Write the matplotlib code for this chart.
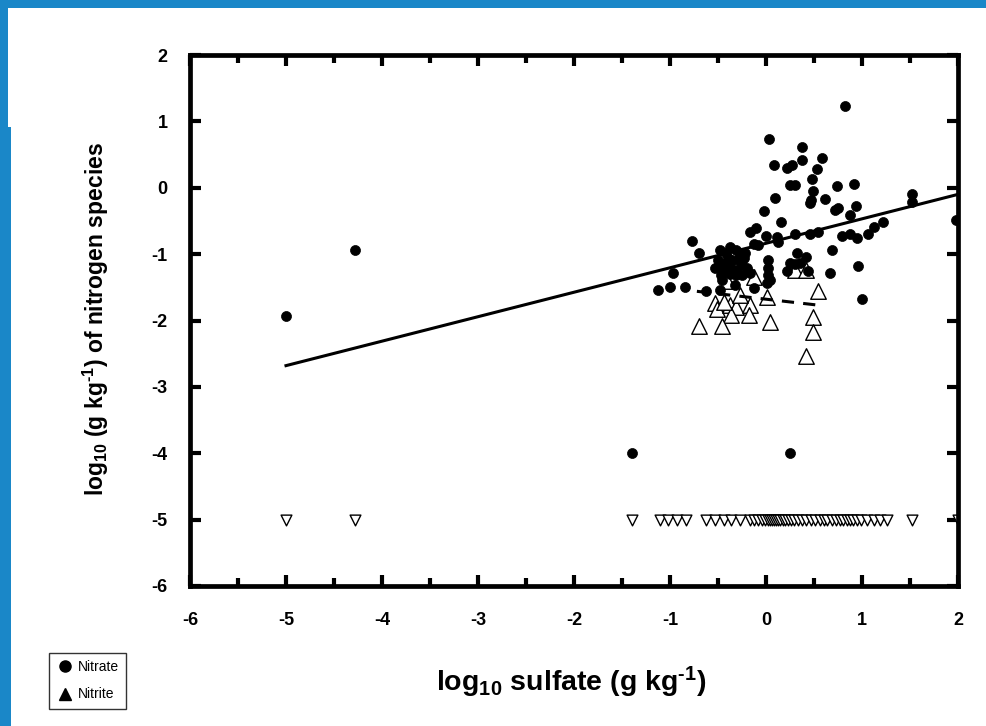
import matplotlib
matplotlib.use("Agg")
import matplotlib.pyplot as plt
from matplotlib.lines import Line2D
from matplotlib.patches import Rectangle
import numpy as np

plt.rcParams['font.family'] = ['Liberation Sans', 'DejaVu Sans']
plt.rcParams['axes.unicode_minus'] = False
plt.rcParams['mathtext.fontset'] = 'custom'
plt.rcParams['mathtext.rm'] = 'Liberation Sans:bold'
plt.rcParams['mathtext.it'] = 'Liberation Sans:bold'
plt.rcParams['mathtext.bf'] = 'Liberation Sans:bold'
plt.rcParams['mathtext.default'] = 'bf'

# ---- data ----
nitrate_x = [-5.0, -4.28, -1.40, 0.25, 0.82, 0.035, 0.37, 0.37, 0.58, 0.083, 0.22, 0.27,
             0.53, 0.48, 0.25, 0.30, 0.49, 0.74, 0.92, 0.09, 0.47, 0.46, 0.61, -0.02,
             0.72, 0.75, 0.94, 0.875, 1.52, 1.52, 0.16, 1.12, 1.22, 1.06, 0.79, 0.875,
             0.95, -0.17, -0.10, 0.0, 0.11, 0.13, 0.30, 0.46, 0.545, -0.77, -0.13, -0.08,
             -0.70, 0.32, 0.42, 0.69, 0.02, 0.25, 0.30, 0.35, 0.22, 0.44, 0.02, 0.96,
             0.67, -0.97, 0.02, 0.04, 0.01, -0.13, -1.12, -1.0, -0.84, 1.0, -0.62, -0.48,
             1.98,
             -0.48, -0.375, -0.31, -0.27, -0.50, -0.40, -0.35, -0.29, -0.23, -0.53, -0.44,
             -0.375, -0.31, -0.25, -0.20, -0.47, -0.38, -0.31, -0.25, -0.17, -0.46, -0.32,
             -0.42, -0.45, -0.22]
nitrate_y = [-1.93, -0.94, -4.0, -4.0, 1.23, 0.73, 0.61, 0.42, 0.45, 0.34, 0.30, 0.34,
             0.29, 0.13, 0.04, 0.04, -0.05, 0.02, 0.06, -0.16, -0.18, -0.23, -0.17, -0.35,
             -0.34, -0.31, -0.27, -0.41, -0.09, -0.21, -0.52, -0.59, -0.51, -0.70, -0.73, -0.69,
             -0.76, -0.66, -0.61, -0.73, -0.74, -0.81, -0.70, -0.69, -0.66, -0.80, -0.84, -0.86,
             -0.98, -0.98, -1.04, -0.94, -1.09, -1.14, -1.15, -1.14, -1.26, -1.26, -1.21, -1.18,
             -1.28, -1.28, -1.31, -1.39, -1.44, -1.51, -1.54, -1.50, -1.50, -1.68, -1.56, -1.54,
             -0.48,
             -0.94, -0.90, -0.94, -1.01, -1.09, -1.06, -1.09, -1.09, -1.06, -1.21, -1.26,
             -1.19, -1.24, -1.16, -1.21, -1.31, -1.30, -1.31, -1.31, -1.28, -1.39, -1.46,
             -0.98, -1.15, -0.98]

nitrite_x = [-0.13, -0.41, 0.545, 0.007, -0.53, -0.51, -0.375, -0.31, -0.36, -0.17, -0.18,
             0.04, -0.70, -0.46, 0.485, 0.49, 0.42, 0.30, 0.42, -0.44, -0.27]
nitrite_y = [-1.34, -1.41, -1.56, -1.64, -1.74, -1.82, -1.77, -1.80, -1.92, -1.77, -1.92,
             -2.02, -2.09, -2.09, -1.94, -2.17, -2.53, -1.24, -1.24, -1.72, -1.62]

nd_x = [-5.0, -4.28, -1.40, -1.10, -1.02, -0.93, -0.83, -0.62, -0.53, -0.44, -0.36, -0.27,
        -0.17, -0.12, -0.08, -0.04, -0.01, 0.02, 0.04, 0.06, 0.08, 0.10, 0.13, 0.15, 0.18,
        0.20, 0.23, 0.26, 0.29, 0.33, 0.38, 0.42, 0.47, 0.51, 0.56, 0.60, 0.64, 0.69, 0.73,
        0.77, 0.80, 0.84, 0.88, 0.91, 0.95, 0.99, 1.05, 1.12, 1.19, 1.26, 1.52, 2.0]
nd_value = -5.0

# regression fits: (slope, intercept, x_start, x_end)
nitrate_fit = (0.3686, -0.837, -5.0, 2.0)
nitrite_fit = (-0.165, -1.679, -0.72, 0.55)

x_ticks = [-6, -5, -4, -3, -2, -1, 0, 1, 2]
y_ticks = [-6, -5, -4, -3, -2, -1, 0, 1, 2]

# ---- figure ----
fig = plt.figure(figsize=(9.86, 7.26), dpi=100)
fig.patch.set_facecolor('white')
blue = '#1a87c8'
fig.patches.append(Rectangle((0, 1 - 8/726), 1, 8/726, transform=fig.transFigure,
                             facecolor=blue, edgecolor='none', zorder=0))
fig.patches.append(Rectangle((0, 1 - 127/726), 8/986, 127/726, transform=fig.transFigure,
                             facecolor=blue, edgecolor='none', zorder=0))
fig.patches.append(Rectangle((0, 0), 11/986, 1 - 127/726, transform=fig.transFigure,
                             facecolor=blue, edgecolor='none', zorder=0))

ax = fig.add_axes([190/986, 1 - 586/726, 768/986, 531/726])
ax.set_xlim(-6, 2)
ax.set_ylim(-6, 2)

ax.scatter(nitrate_x, nitrate_y, s=52, marker='o', facecolor='black', edgecolor='black',
           linewidths=0.5, zorder=3)
ax.scatter(nitrite_x, nitrite_y, s=125, marker='^', facecolor='white', edgecolor='black',
           linewidths=1.0, zorder=2)
ax.scatter(nd_x, [nd_value] * len(nd_x), s=60, marker='v', facecolor='white',
           edgecolor='black', linewidths=1.0, zorder=2)

for (m, b, x0, x1), ls in [(nitrate_fit, '-'), (nitrite_fit, (0, (4, 3)))]:
    xs = np.array([x0, x1])
    ax.plot(xs, m * xs + b, color='black', lw=2.2, ls=ls, zorder=4)

for s in ax.spines.values():
    s.set_linewidth(3.4)
ax.set_xticks(x_ticks)
ax.set_yticks(y_ticks)
ax.set_xticks(np.arange(-5.5, 2, 1.0), minor=True)
ax.set_xticklabels([str(t) for t in x_ticks])
ax.set_yticklabels([str(t) for t in y_ticks])
ax.tick_params(which='major', direction='in', length=8, width=3, top=True, right=True,
               labelsize=13)
ax.tick_params(which='minor', direction='in', length=6, width=3, top=True, bottom=True)
ax.tick_params(axis='x', which='major', pad=19)
ax.tick_params(axis='y', which='major', pad=16)
for lab in ax.get_xticklabels() + ax.get_yticklabels():
    lab.set_fontweight('bold')

fig.text(96/986, 1 - 319/726, r'log$_{10}$ (g kg$^{\text{-1}}$) of nitrogen species',
         rotation=90, ha='center', va='center', fontsize=16.5, fontweight='bold')
fig.text(571/986, 1 - 682/726, r'log$_{10}$ sulfate (g kg$^{\text{-1}}$)',
         ha='center', va='center', fontsize=20.5, fontweight='bold')

handles = [Line2D([], [], marker='o', color='black', ls='none', markersize=8),
           Line2D([], [], marker='^', color='black', ls='none', markersize=8)]
leg = fig.legend(handles, ['Nitrate', 'Nitrite'], loc='lower left',
                 bbox_to_anchor=(49/986, 1 - 709/726), frameon=True, fancybox=False,
                 edgecolor='black', fontsize=10, handlelength=1.2, handletextpad=0.3,
                 borderpad=0.55, labelspacing=0.95, borderaxespad=0)
leg.get_frame().set_linewidth(1.0)

fig.savefig('out.png', dpi=100, facecolor='white')
